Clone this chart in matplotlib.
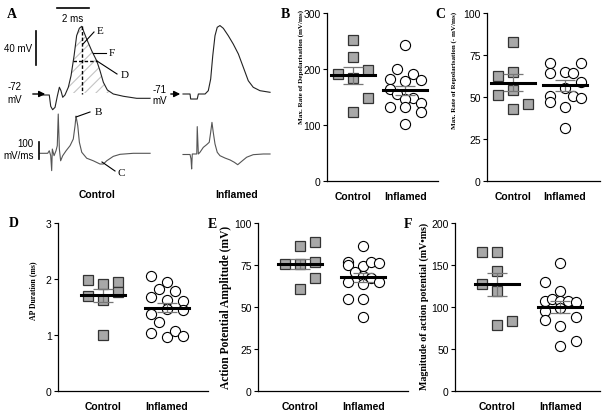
import matplotlib
matplotlib.use('Agg')
import matplotlib.pyplot as plt
import numpy as np

plt.rcParams['font.family'] = 'Liberation Sans'
serif = 'Liberation Serif'

# ---------------- panel A: example traces ----------------
# control membrane potential (ms, mV)
ctrlT = [0, 0.58, 0.67, 0.79, 0.94, 1.08, 1.21, 1.31, 1.42, 1.56, 1.77, 1.94, 2.13, 2.29,
         2.46, 2.61, 2.75, 2.96, 3.23, 3.54, 3.75, 3.96, 4.21, 4.58, 5.21, 6.04, 6.88]
ctrlV = [-72, -72, -85.3, -89.3, -86.5, -73.5, -62.9, -66.9, -74.7, -72, -62.9, -49.3, -25.8, -2.2,
         6.5, 8.8, 1.8, -8.1, -19.9, -31.6, -43.4, -57.1, -66.1, -70.8, -73.5, -75.9, -75.9]
# control dV/dt (ms, mV/ms)
ctrlRateT = [0, 0.48, 0.58, 0.67, 0.73, 0.77, 0.88, 1.0, 1.08, 1.14, 1.21, 1.29, 1.42, 1.63, 1.88,
             2.08, 2.19, 2.25, 2.36, 2.46, 2.61, 2.92, 3.33, 3.75, 3.96, 4.17, 4.58, 5.0, 5.83, 6.88]
ctrlRate = [0, 0, 15, -14, -102, 25, -14, 15, 45, 231, 25, -44, -14, 15, 45,
            84, 162, 219, 162, 65, 6, -29, -44, -63, -63, -44, -18, -6, 0, 0]
# inflamed membrane potential
inflT = [0, 0.44, 0.48, 0.89, 0.96, 1.38, 1.58, 1.73, 1.86, 2.0, 2.14, 2.31, 2.52, 2.83,
         3.14, 3.46, 3.77, 4.08, 4.39, 4.81, 5.44]
inflV = [-71, -71, -76.9, -76.9, -71, -71, -67.1, -53.4, -25.9, -2.4, 7.5, 9.5, 6.3, -2.4,
         -12.2, -23.9, -39.6, -55.4, -63.1, -67.1, -69]
# inflamed dV/dt
inflRateT = [0, 0.44, 0.5, 0.54, 0.58, 0.86, 0.89, 0.96, 1.06, 1.27, 1.48, 1.64, 1.73, 1.81,
             1.89, 2.0, 2.14, 2.31, 2.63, 2.94, 3.21, 3.42, 3.67, 3.98, 4.39, 5.02, 5.44]
inflRate = [0, 0, -26, -85, 3, 3, 164, 3, 13, 42, 58, 72, 131, 189,
            131, 62, 13, -7, -21, -32, -46, -60, -40, -16, -1, 3, 3]

# ---------------- panels B-F: individual cells ----------------
groups = ['Control', 'Inflamed']

depolCtrl = [252, 221, 191, 184, 198, 149, 123]
depolInfl = [243, 200, 182, 179, 191, 181, 164, 155, 149, 146, 133, 133, 140, 124, 102]
depolMean = [189, 162]
depolSem = [15, 8]

repolCtrl = [82.5, 62.7, 64.7, 54.4, 51.2, 42.9, 45.8]
repolInfl = [70.2, 70.2, 64.3, 64.7, 64.3, 58.7, 55.2, 50.4, 46.8, 50.4, 49.2, 43.8, 31.4]
repolMean = [58.5, 57]
repolSem = [5, 3.2]

durCtrl = [1.99, 1.69, 1.91, 1.63, 1.95, 1.76, 1.0]
durInfl = [2.06, 1.95, 1.82, 1.79, 1.67, 1.63, 1.61, 1.38, 1.46, 1.45, 1.24, 1.04, 0.97, 1.07, 0.98]
durMean = [1.71, 1.49]
durSem = [0.12, 0.08]

ampCtrl = [86.1, 88.5, 75.6, 75.6, 77, 67, 60.7]
ampInfl = [86.1, 77, 75, 74.2, 76.6, 76.2, 70.6, 68.6, 64.7, 63.7, 67, 64.7, 54.8, 54.8, 43.8]
ampMean = [75.6, 67.7]
ampSem = [2.8, 2.8]

magCtrl = [166, 166, 142.5, 127, 119, 78.6, 83.7]
magInfl = [152, 129.4, 119, 107.5, 110, 107.5, 107.5, 105.5, 95.6, 98.4, 88.5, 84.5, 77.8, 53.2, 59.1]
magMean = [127, 99.6]
magSem = [13.5, 7.3]

# column slot of each point (scatter layout, like Prism)
depolCtrlCol = [0, 0, -1, 0, 1, 1, 0]
depolInflCol = [0, -1, -2, 0, 1, 2, -2, -1, 1, 0, -2, 0, 2, 2, 0]
repolCtrlCol = [0, -1, 0, 0, -1, 0, 1]
repolInflCol = [-2, 2, -2, 0, 1, 2, 0, -2, -2, 1, 2, 0, 0]
durCtrlCol = [-1, -1, 0, 0, 1, 1, 0]
durInflCol = [-2, 0, -1, 1, -2, 0, 2, -2, 0, 2, -1, -2, 0, 1, 2]
ampCtrlCol = [0, 1, -1, 0, 1, 1, 0]
ampInflCol = [0, -2, -2, 0, 1, 2, -1, 0, -2, 0, 1, 2, -2, 0, 0]
magCtrlCol = [-1, 0, 0, -1, 0, 0, 1]
magInflCol = [0, -2, 0, -2, -1, 0, 1, 2, -2, 0, 2, -2, 0, 0, 2]

W, H = 605, 414
fig = plt.figure(figsize=(W / 100, H / 100), dpi=100)

# overlay axes in pixel units for panel A
axA = fig.add_axes([0, 0, 1, 1])
axA.set_xlim(0, W)
axA.set_ylim(H, 0)
axA.axis('off')
axA.patch.set_alpha(0)

pxMs = 16.0     # px per ms
pxMv = 0.85     # px per mV
pxRate = 0.17   # px per mV/ms


def toPx(t, y, x0, y0, base, scale):
    return x0 + np.array(t) * pxMs, y0 - (np.array(y) - base) * scale


cx, cy = toPx(ctrlT, ctrlV, 40, 96, -72, pxMv)
axA.plot(cx, cy, color='#222222', lw=0.8)
ix, iy = toPx(inflT, inflV, 183, 95, -71, pxMv)
axA.plot(ix, iy, color='#222222', lw=0.8)
rx, ry = toPx(ctrlRateT, ctrlRate, 40, 154.3, 0, pxRate)
axA.plot(rx, ry, color='#555555', lw=0.8)
rx2, ry2 = toPx(inflRateT, inflRate, 183, 155.5, 0, pxRate)
axA.plot(rx2, ry2, color='#555555', lw=0.8)

# hatched area under control AP
plt.rcParams['hatch.linewidth'] = 0.8
ctrlTa = np.array(ctrlT)
sel = (ctrlTa >= 1.77) & (ctrlTa <= 4.58)
axA.fill_between(cx[sel], cy[sel], 94, facecolor='none', edgecolor='#c4c4c4',
                 hatch='///', linewidth=0)

# dashed peak line and half-width line
ctrlVa = np.array(ctrlV)
pk = int(np.argmax(ctrlVa))
axA.plot([cx[pk], cx[pk]], [cy[pk], 95], 'k--', lw=1.0, dashes=(2.5, 1.5))
half = (ctrlVa[pk] + ctrlVa[0]) / 2
tUp = np.interp(half, ctrlVa[9:pk + 1], ctrlTa[9:pk + 1])
tDown = np.interp(half, ctrlVa[pk:][::-1], ctrlTa[pk:][::-1])
hx, hy = toPx([tUp, tDown], [half, half], 40, 96, -72, pxMv)
axA.plot(hx, hy, 'k--', lw=1.0, dashes=(2.5, 1.5))

# scale bars
axA.plot([57, 57 + 2 * pxMs], [9, 9], 'k', lw=1.2)
axA.text(73, 19, '2 ms', ha='center', va='center', fontsize=7)
axA.plot([36, 36], [32, 32 + 40 * pxMv], 'k', lw=1.2)
axA.text(32, 49, '40 mV', ha='right', va='center', fontsize=7)
axA.plot([39, 39], [143, 143 + 100 * pxRate], 'k', lw=1.2)
axA.text(33, 144, '100', ha='right', va='center', fontsize=7)
axA.text(34, 156, 'mV/ms', ha='right', va='center', fontsize=7)

# resting potential arrows
axA.text(15, 87, '-72', ha='center', va='center', fontsize=7)
axA.text(15, 100, 'mV', ha='center', va='center', fontsize=7)
axA.annotate('', xy=(48, 95), xytext=(30, 95),
             arrowprops=dict(arrowstyle='-|>', color='k', lw=1, mutation_scale=9))
axA.text(160, 90, '-71', ha='center', va='center', fontsize=7)
axA.text(160, 101, 'mV', ha='center', va='center', fontsize=7)
axA.annotate('', xy=(183, 95), xytext=(168, 95),
             arrowprops=dict(arrowstyle='-|>', color='k', lw=1, mutation_scale=9))

# measurement labels
for lbl, p0, p1, tp in [('E', (83, 45), (94, 33), (97, 31)),
                        ('F', (93, 54), (106, 54), (109, 54)),
                        ('D', (97, 62), (117, 75), (121, 76)),
                        ('B', (76, 118), (90, 113), (95, 113)),
                        ('C', (102, 163), (115, 172), (118, 174))]:
    axA.plot([p0[0], p1[0]], [p0[1], p1[1]], color='k', lw=0.8)
    axA.text(tp[0], tp[1], lbl, ha='left', va='center', fontsize=8, family=serif)

axA.text(97, 195, 'Control', ha='center', va='center', fontsize=7.5, fontweight='bold')
axA.text(237, 195, 'Inflamed', ha='center', va='center', fontsize=7.5, fontweight='bold')

# ---------------- scatter panels ----------------


def scatterPanel(rect, xlim, ylim, yticks, ctrl, ctrlCol, infl, inflCol, mean, sem):
    ax = fig.add_axes(rect)
    ax.set_xlim(xlim)
    ax.set_ylim(ylim)
    ppu = rect[2] * W / (xlim[1] - xlim[0])
    ax.plot(0 + np.array(ctrlCol) * 15 / ppu, ctrl, 's', ms=7, mfc='#a8a8a8',
            mec='#333333', mew=0.9, zorder=2, clip_on=False)
    ax.plot(1 + np.array(inflCol) * 7.8 / ppu, infl, 'o', ms=7.3, mfc='white',
            mec='black', mew=0.8, zorder=2, clip_on=False)
    for i in range(2):
        ax.errorbar(i, mean[i], yerr=sem[i], color='#777777', lw=0.9, capsize=7.5,
                    capthick=0.9, zorder=3)
        hw = 22 / ppu
        ax.plot([i - hw, i + hw], [mean[i], mean[i]], color='black', lw=2.2, zorder=4)
    ax.set_xticks([0, 1])
    ax.set_xticklabels(groups, fontsize=7.5, fontweight='bold')
    ax.tick_params(axis='x', length=0, pad=7)
    ax.set_yticks(yticks)
    ax.tick_params(axis='y', labelsize=7.5, length=3, width=0.8, pad=1.5)
    for s in ['top', 'right']:
        ax.spines[s].set_visible(False)
    for s in ['left', 'bottom']:
        ax.spines[s].set_linewidth(0.9)
    ax.patch.set_alpha(0)
    return ax


def frac(left, right, top, bottom):
    return [left / W, (H - bottom) / H, (right - left) / W, (bottom - top) / H]


scatterPanel(frac(327, 438, 14, 182), (-0.5, 1.63), (0, 300), [0, 100, 200, 300],
             depolCtrl, depolCtrlCol, depolInfl, depolInflCol, depolMean, depolSem)
scatterPanel(frac(487, 600, 14, 182), (-0.5, 1.67), (0, 100), [0, 25, 50, 75, 100],
             repolCtrl, repolCtrlCol, repolInfl, repolInflCol, repolMean, repolSem)
scatterPanel(frac(58, 208, 224, 392), (-0.70, 1.64), (0, 3), [0, 1, 2, 3],
             durCtrl, durCtrlCol, durInfl, durInflCol, durMean, durSem)
scatterPanel(frac(258, 408, 224, 392), (-0.67, 1.71), (0, 100), [0, 25, 50, 75, 100],
             ampCtrl, ampCtrlCol, ampInfl, ampInflCol, ampMean, ampSem)
scatterPanel(frac(455, 600, 224, 392), (-0.67, 1.63), (0, 200), [0, 50, 100, 150, 200],
             magCtrl, magCtrlCol, magInfl, magInflCol, magMean, magSem)

# y labels (serif bold, as in the original)
ylabs = [('Max. Rate of Depolarisation (mV/ms)', 301, 67, 5.1),
         ('Max. Rate of Repolarisation (- mV/ms)', 454, 70, 5.0),
         ('AP Duration (ms)', 33, 291, 5.6),
         ('Action Potential Amplitude (mV)', 226, 307, 8.3),
         ('Magnitude of action potential (mV\u2022ms)', 424, 306, 7.2)]
for txt, x, y, fs in ylabs:
    fig.text(x / W, 1 - y / H, txt, rotation=90, ha='center', va='center',
             fontsize=fs, fontweight='bold', family=serif)

# panel letters
for lbl, x, y in [('A', 12, 14), ('B', 285, 15), ('C', 440, 14),
                  ('D', 14, 224), ('E', 212, 225), ('F', 408, 225)]:
    fig.text(x / W, 1 - y / H, lbl, ha='center', va='center', fontsize=10,
             fontweight='bold', family=serif)

fig.savefig('out.png', dpi=100)
